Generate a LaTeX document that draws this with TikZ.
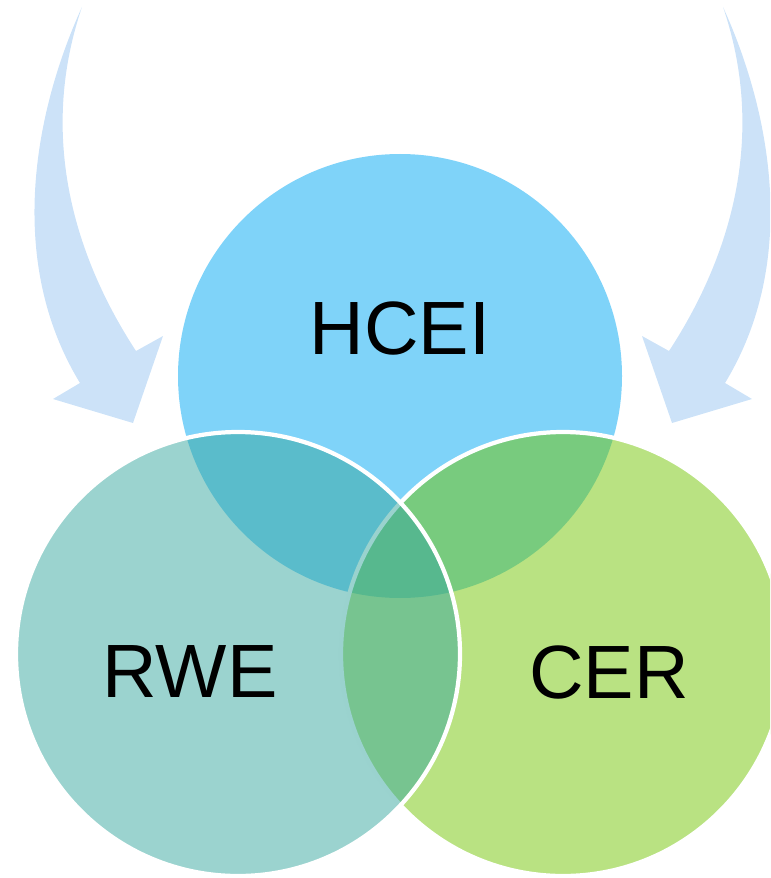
\documentclass[tikz,border=0pt]{standalone}
\usepackage{fontspec}
\setmainfont{Liberation Sans}

\definecolor{hceiblue}{RGB}{127,211,249}
\definecolor{rweteal}{RGB}{55,167,159}
\definecolor{cergreen}{RGB}{115,197,5}
\definecolor{arrowblue}{RGB}{204,226,248}

\tikzset{
  venn/.style={draw=white, line width=2.4pt, fill opacity=0.5},
  venntext/.style={font=\fontsize{43}{50}\selectfont, text=black, inner sep=0pt},
  bendarrow/.style={fill=arrowblue}
}

\begin{document}
\begin{tikzpicture}[x=0.02cm, y=-0.02cm]
\useasboundingbox (0,0) rectangle (770,878);
\clip (0,0) rectangle (770,878);

%% 위에서 내려오는 화살표
\begin{scope}
\path[bendarrow] (82,7) .. controls (35,110) and (5,260) .. (80,383)
  -- (53,399) -- (133,423) -- (163,336) -- (136,351)
  .. controls (70,250) and (40,130) .. (82,7) -- cycle; % 왼쪽
\end{scope}
\begin{scope}[shift={(805,0)}, xscale=-1]
\path[bendarrow] (82,7) .. controls (35,110) and (5,260) .. (80,383)
  -- (53,399) -- (133,423) -- (163,336) -- (136,351)
  .. controls (70,250) and (40,130) .. (82,7) -- cycle; % 오른쪽
\end{scope}

%% 세 원
\coordinate (hcei) at (400,376);
\coordinate (rwe) at (238,654);
\coordinate (cer) at (563,654);

\fill[hceiblue] (hcei) circle (222);
\path[venn, fill=cergreen] (cer) circle (222);
\path[venn, fill=rweteal] (rwe) circle (222);

\node[venntext] (hceilabel) at (400,328) {HCEI};
\node[venntext] (rwelabel) at (190,672) {RWE};
\node[venntext] (cerlabel) at (609,672) {CER};
\end{tikzpicture}
\end{document}
